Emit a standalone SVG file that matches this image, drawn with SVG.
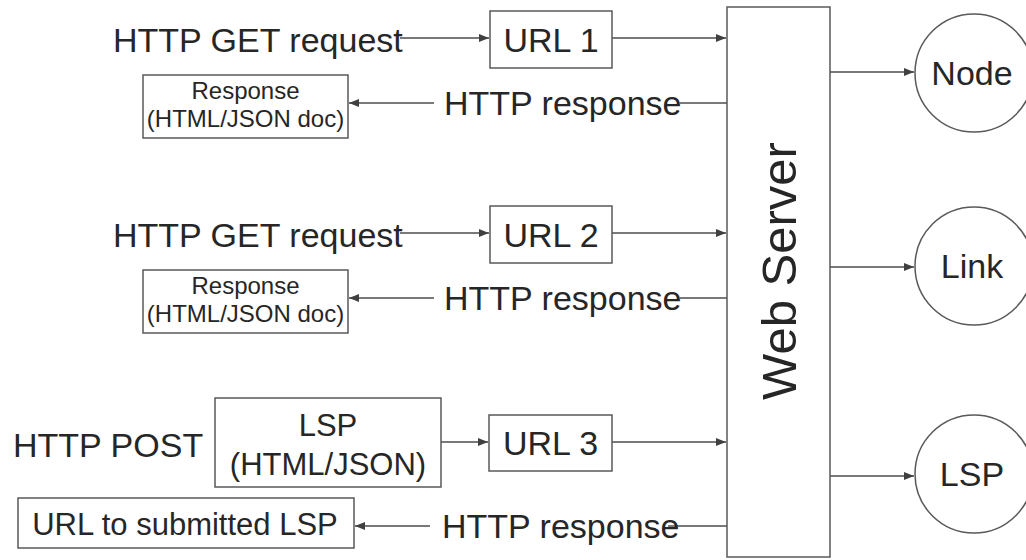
<svg xmlns="http://www.w3.org/2000/svg" width="1026" height="560" viewBox="0 0 1026 560">
<style>
.box{fill:#fff;stroke:#595959;stroke-width:1.5}
.ln{fill:none;stroke:#4d4d4d;stroke-width:1.5}
.t{font-family:"Liberation Sans",Arial,sans-serif;fill:#262626}
.l{font-size:34px}
.m{font-size:31px}
.s{font-size:24px}
</style>
<defs>
<marker id="ah" viewBox="0 0 10 10" refX="10" refY="5" markerWidth="10" markerHeight="10" markerUnits="userSpaceOnUse" orient="auto">
<path d="M0,1 L10,5 L0,9 Z" fill="#404040"/>
</marker>
</defs>
<rect width="1026" height="560" fill="#fff"/>
<g id="connectors">
<line class="ln" x1="400" y1="38" x2="489" y2="38" marker-end="url(#ah)"/>
<line class="ln" x1="612" y1="38" x2="726" y2="38" marker-end="url(#ah)"/>
<line class="ln" x1="727" y1="103" x2="680" y2="103"/>
<line class="ln" x1="434" y1="103" x2="349" y2="103" marker-end="url(#ah)"/>
<line class="ln" x1="400" y1="233" x2="489" y2="233" marker-end="url(#ah)"/>
<line class="ln" x1="612" y1="233" x2="726" y2="233" marker-end="url(#ah)"/>
<line class="ln" x1="727" y1="298" x2="680" y2="298"/>
<line class="ln" x1="434" y1="298" x2="349" y2="298" marker-end="url(#ah)"/>
<line class="ln" x1="434" y1="442" x2="488" y2="442" marker-end="url(#ah)"/>
<line class="ln" x1="612" y1="442" x2="726" y2="442" marker-end="url(#ah)"/>
<line class="ln" x1="727" y1="526" x2="668" y2="526"/>
<line class="ln" x1="430" y1="526" x2="355" y2="526" marker-end="url(#ah)"/>
<line class="ln" x1="830" y1="72" x2="914" y2="72" marker-end="url(#ah)"/>
<line class="ln" x1="830" y1="267" x2="914" y2="267" marker-end="url(#ah)"/>
<line class="ln" x1="830" y1="476" x2="914" y2="476" marker-end="url(#ah)"/>
</g>
<g id="get1">
<text class="t l" x="113" y="52">HTTP GET request</text>
</g>
<g id="url1">
<rect class="box" x="490" y="11" width="122" height="57"/>
<text class="t l" x="551" y="52" text-anchor="middle">URL 1</text>
</g>
<g id="resp1">
<text class="t l" x="444" y="115">HTTP response</text>
</g>
<g id="respdoc1">
<rect class="box" x="143" y="75" width="205" height="63"/>
<text class="t s" x="245.5" y="99" text-anchor="middle">Response</text>
<text class="t s" x="245.5" y="127" text-anchor="middle">(HTML/JSON doc)</text>
</g>
<g id="get2">
<text class="t l" x="113" y="247">HTTP GET request</text>
</g>
<g id="url2">
<rect class="box" x="490" y="206" width="122" height="57"/>
<text class="t l" x="551" y="247" text-anchor="middle">URL 2</text>
</g>
<g id="resp2">
<text class="t l" x="444" y="310">HTTP response</text>
</g>
<g id="respdoc2">
<rect class="box" x="143" y="270" width="205" height="63"/>
<text class="t s" x="245.5" y="294" text-anchor="middle">Response</text>
<text class="t s" x="245.5" y="322" text-anchor="middle">(HTML/JSON doc)</text>
</g>
<g id="post">
<text class="t l" x="13" y="457">HTTP POST</text>
</g>
<g id="lspdoc">
<rect class="box" x="215" y="398" width="226" height="89"/>
<text class="t m" x="328" y="436" text-anchor="middle">LSP</text>
<text class="t m" x="328" y="475" text-anchor="middle">(HTML/JSON)</text>
</g>
<g id="url3">
<rect class="box" x="489" y="415" width="123" height="56"/>
<text class="t l" x="550.5" y="455" text-anchor="middle">URL 3</text>
</g>
<g id="resp3">
<text class="t l" x="442" y="538">HTTP response</text>
</g>
<g id="submitted">
<rect class="box" x="18" y="498" width="336" height="50"/>
<text class="t m" x="185" y="535" text-anchor="middle">URL to submitted LSP</text>
</g>
<g id="webserver">
<rect class="box" x="727" y="7" width="103" height="550"/>
<text class="t" font-size="49" transform="translate(796,271) rotate(-90)" text-anchor="middle">Web Server</text>
</g>
<g id="node">
<circle class="box" cx="974" cy="73" r="59"/>
<text class="t l" x="972" y="85" text-anchor="middle">Node</text>
</g>
<g id="link">
<circle class="box" cx="974" cy="266" r="59"/>
<text class="t l" x="972" y="278" text-anchor="middle">Link</text>
</g>
<g id="lsp">
<circle class="box" cx="974" cy="474" r="59"/>
<text class="t l" x="972" y="486" text-anchor="middle">LSP</text>
</g>
</svg>
